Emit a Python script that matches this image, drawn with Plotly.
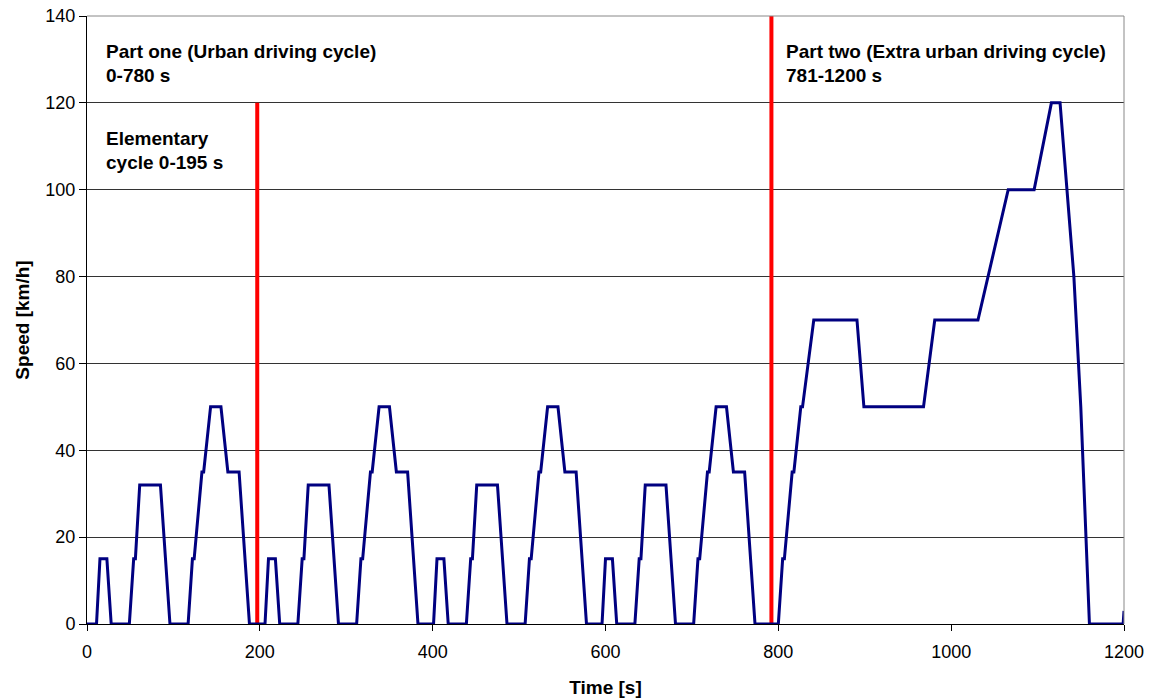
import plotly.graph_objects as go

# NEDC speed profile (time [s], speed [km/h])
time_s = [0, 11, 15, 23, 28, 49, 54, 56, 61, 85, 96, 117, 122, 124, 133, 135, 143, 155, 163, 176, 188, 195,
          206, 210, 218, 223, 244, 249, 251, 256, 280, 291, 312, 317, 319, 328, 330, 338, 350, 358, 371, 383, 390,
          401, 405, 413, 418, 439, 444, 446, 451, 475, 486, 507, 512, 514, 523, 525, 533, 545, 553, 566, 578, 585,
          596, 600, 608, 613, 634, 639, 641, 646, 670, 681, 702, 707, 709, 718, 720, 728, 740, 748, 761, 773, 780,
          800, 805, 807, 816, 818, 826, 828, 841, 891, 899, 968, 981, 1031, 1066, 1096, 1116, 1126, 1142, 1150,
          1160, 1199, 1200]
speed_kmh = [0, 0, 15, 15, 0, 0, 15, 15, 32, 32, 0, 0, 15, 15, 35, 35, 50, 50, 35, 35, 0, 0,
             0, 15, 15, 0, 0, 15, 15, 32, 32, 0, 0, 15, 15, 35, 35, 50, 50, 35, 35, 0, 0,
             0, 15, 15, 0, 0, 15, 15, 32, 32, 0, 0, 15, 15, 35, 35, 50, 50, 35, 35, 0, 0,
             0, 15, 15, 0, 0, 15, 15, 32, 32, 0, 0, 15, 15, 35, 35, 50, 50, 35, 35, 0, 0,
             0, 15, 15, 35, 35, 50, 50, 70, 70, 50, 50, 70, 70, 100, 100, 120, 120, 80, 50,
             0, 0, 3]

# Red marker lines
elementary_x = [197, 197]
elementary_y = [0, 120]
part_two_x = [792, 792]
part_two_y = [0, 140]

x_ticks = [0, 200, 400, 600, 800, 1000, 1200]
y_ticks = [0, 20, 40, 60, 80, 100, 120, 140]

FONT = "Liberation Sans, Arial, sans-serif"

fig = go.Figure()
fig.add_trace(go.Scatter(x=elementary_x, y=elementary_y, mode="lines",
                         line=dict(color="#FF0000", width=4), showlegend=False, cliponaxis=False))
fig.add_trace(go.Scatter(x=part_two_x, y=part_two_y, mode="lines",
                         line=dict(color="#FF0000", width=4), showlegend=False, cliponaxis=False))
fig.add_trace(go.Scatter(x=time_s, y=speed_kmh, mode="lines",
                         line=dict(color="#000080", width=3), showlegend=False))

annots = [
    ("Part one (Urban driving cycle)", 20, 131.8),
    ("0-780 s", 20, 126.4),
    ("Elementary", 20, 111.7),
    ("cycle 0-195 s", 20, 106.3),
    ("Part two (Extra urban driving cycle)", 807, 131.8),
    ("781-1200 s", 807, 126.4),
]
for txt, ax_, ay_ in annots:
    fig.add_annotation(x=ax_, y=ay_, text="<b>" + txt + "</b>", showarrow=False,
                       xanchor="left", yanchor="middle",
                       font=dict(family=FONT, size=19, color="black"))

# gray frame on top/right
fig.add_shape(type="line", xref="paper", yref="paper", x0=0, x1=1, y0=1, y1=1,
              line=dict(color="#888888", width=1))
fig.add_shape(type="line", xref="paper", yref="paper", x0=1, x1=1, y0=0, y1=1,
              line=dict(color="#888888", width=1))

fig.update_layout(
    width=1154, height=698,
    margin=dict(l=87, r=30, t=16, b=74),
    paper_bgcolor="white", plot_bgcolor="white",
    font=dict(family=FONT, size=18, color="black"),
    xaxis=dict(range=[0, 1200], tickvals=x_ticks, ticks="outside", ticklen=6, tickcolor="black",
               showline=True, linecolor="black", linewidth=1, showgrid=False, zeroline=False,
               title=dict(text="<b>Time [s]</b>", font=dict(size=19), standoff=20),
               tickfont=dict(size=18), ticklabelstandoff=5, automargin=False),
    yaxis=dict(range=[0, 140], tickvals=y_ticks, ticks="outside", ticklen=7, tickcolor="black",
               showline=True, linecolor="black", linewidth=1, showgrid=True, gridcolor="#333333",
               gridwidth=1, zeroline=False,
               title=dict(text="<b>Speed [km/h]</b>", font=dict(size=19), standoff=10),
               tickfont=dict(size=18), automargin=False),
)

fig.write_html("out.html")
